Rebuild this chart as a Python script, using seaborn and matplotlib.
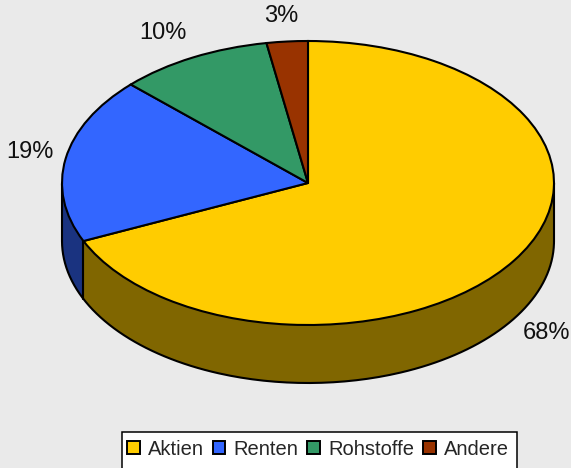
"""3D looking pie chart of an asset allocation, built from stacked seaborn styled pies."""

import numpy as np
import matplotlib
matplotlib.use("Agg")
import matplotlib.pyplot as plt
from matplotlib.patches import Patch, Rectangle
import seaborn as sns

categories = ["Aktien", "Renten", "Rohstoffe", "Andere"]
shares = [68.3, 18.9, 10.1, 2.7]
pct_labels = ["68%", "19%", "10%", "3%"]
top_colors = ["#FFCC00", "#3366FF", "#339966", "#993300"]
side_colors = ["#806600", "#1A3380", "#1A4D33", "#4D1A00"]

PX_X, PX_Y = 246.0, 142.0
CX, CY = 308.0, 183.0
DEPTH = 58.0 / PX_Y

sns.set_theme(style="white", rc={"figure.facecolor": "#EAEAEA", "axes.facecolor": "#EAEAEA"})
plt.rcParams["font.family"] = ["Liberation Sans", "DejaVu Sans"]

fig = plt.figure(figsize=(5.71, 4.68), dpi=100)
ax = fig.add_axes([0, 0, 1, 1])


def draw_pie(offset, colors, edge):
    ax.pie(shares, colors=colors, startangle=90, counterclock=False,
           center=(0, -offset), radius=1, frame=False,
           wedgeprops={"edgecolor": edge, "linewidth": 1.5 if edge != "none" else 0})


# side wall: one filled layer per pixel, the top face goes on last
for off in np.linspace(DEPTH, 0, 58, endpoint=False):
    draw_pie(off, side_colors, "none")

# bottom rim, silhouette lines and the front edge between Aktien and Renten
t = np.linspace(np.pi, 2 * np.pi, 200)
ax.plot(np.cos(t), np.sin(t) - DEPTH, color="black", lw=1.5)
ax.plot([-1, -1], [0, -DEPTH], color="black", lw=1.5)
ax.plot([1, 1], [0, -DEPTH], color="black", lw=1.5)
angle = np.deg2rad(90 - 3.6 * shares[0])
ax.plot([np.cos(angle)] * 2, [np.sin(angle), np.sin(angle) - DEPTH], color="black", lw=1.5)

draw_pie(0, top_colors, "black")

ax.set_aspect("auto")
ax.set_xlim(-CX / PX_X, (571 - CX) / PX_X)
ax.set_ylim(-(468 - CY) / PX_Y, CY / PX_Y)
ax.axis("off")

label_pos = [(546, 333), (30, 152), (163, 33), (281, 16)]
for text, (px, py) in zip(pct_labels, label_pos):
    ax.text((px - CX) / PX_X, (CY - py) / PX_Y, text, fontsize=17, color="#111111",
            ha="center", va="center")

# legend box runs off the bottom of the image, so the frame is drawn by hand
fig.add_artist(Rectangle((122 / 571, -0.02), 395 / 571, 1 - 431.5 / 468 + 0.02,
                         transform=fig.transFigure, facecolor="white",
                         edgecolor="black", linewidth=1.1))
handles = [Patch(facecolor=c, edgecolor="black", linewidth=1.4, label=n)
           for c, n in zip(top_colors, categories)]
fig.legend(handles=handles, loc="center", bbox_to_anchor=(318 / 571, 1 - 449.5 / 468),
           ncol=4, frameon=False, fontsize=14.5,
           handlelength=0.62, handleheight=0.62, handletextpad=0.4,
           columnspacing=0.45, borderpad=0, borderaxespad=0)

fig.savefig("out.png", dpi=100, facecolor=fig.get_facecolor())
